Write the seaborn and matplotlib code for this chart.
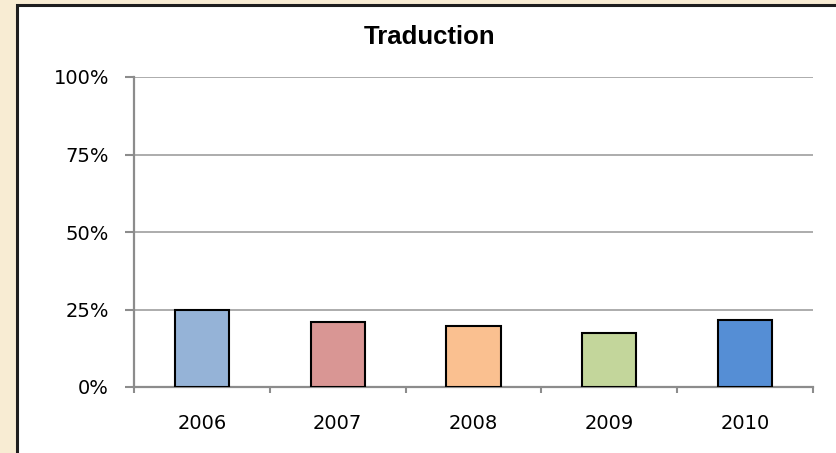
import matplotlib
matplotlib.use("Agg")
import matplotlib.pyplot as plt
from matplotlib.patches import Rectangle
from matplotlib.ticker import FixedLocator, PercentFormatter
import seaborn as sns
import pandas as pd

# Share of translation per year
years = ["2006", "2007", "2008", "2009", "2010"]
shares = [25.0, 21.1, 19.6, 17.5, 21.6]
bar_colors = ["#95B3D7", "#D99694", "#FAC090", "#C3D69B", "#558ED5"]
y_ticks = [0, 25, 50, 75, 100]
title = "Traduction"

df = pd.DataFrame({"year": years, "share": shares})

sns.set_theme(style="white")
plt.rcParams["font.family"] = ["DejaVu Sans"]

W, H = 836, 453
fig = plt.figure(figsize=(W / 100, H / 100), dpi=100, facecolor="#F8ECD3")

# White chart panel with dark frame, kept behind the axes
panel = Rectangle((17 / W, -0.05), 1.1, 1 - 5 / H + 0.05, transform=fig.transFigure,
                  facecolor="white", edgecolor="#1E1E1E", linewidth=2.2, zorder=-5)
fig.patches.append(panel)

ax = fig.add_axes([134 / W, 1 - 387 / H, (813 - 134) / W, (387 - 77) / H])
ax.set_facecolor("none")

sns.barplot(data=df, x="year", y="share", hue="year", palette=bar_colors,
            saturation=1, width=0.4, edgecolor="black", linewidth=1.5,
            legend=False, ax=ax, zorder=3)

ax.set_xlim(-0.5, len(years) - 0.5)
ax.set_ylim(0, 100)
ax.set_yticks(y_ticks)
ax.yaxis.set_major_formatter(PercentFormatter(decimals=0))
ax.grid(axis="y", color="#A6A6A6", linewidth=1.3, zorder=0)
ax.set_axisbelow(True)

for side in ("top", "right"):
    ax.spines[side].set_visible(False)
for side in ("left", "bottom"):
    ax.spines[side].set_color("#8C8C8C")
    ax.spines[side].set_linewidth(1.6)

# Category separators as minor ticks on the x axis
ax.xaxis.set_minor_locator(FixedLocator([i - 0.5 for i in range(len(years) + 1)]))
ax.tick_params(axis="x", which="major", length=0, pad=19.5, labelsize=14, labelcolor="black")
ax.tick_params(axis="x", which="minor", bottom=True, length=4, width=1.5, color="#8C8C8C")
ax.tick_params(axis="y", which="major", left=True, length=6.5, width=1.5, color="#8C8C8C",
               pad=11.5, labelsize=14, labelcolor="black")
ax.set_xlabel("")
ax.set_ylabel("")

fig.text(430 / W, 1 - 36.5 / H, title, ha="center", va="center", color="black",
         fontsize=18.5, fontweight="bold", family=["Liberation Sans", "DejaVu Sans"])

fig.savefig("out.png", dpi=100, facecolor=fig.get_facecolor())
